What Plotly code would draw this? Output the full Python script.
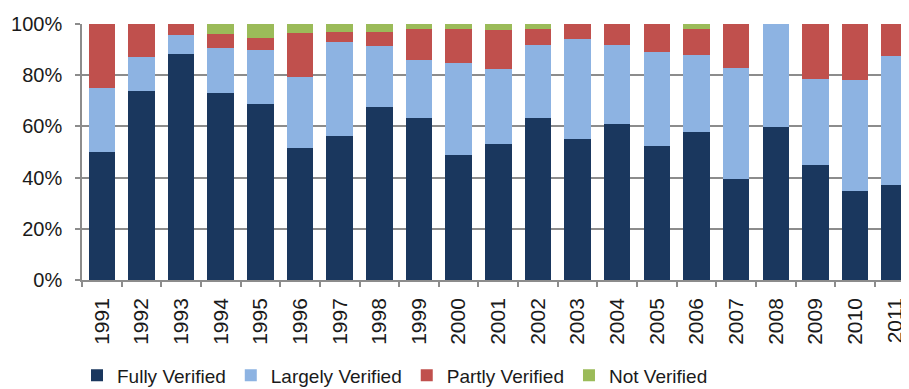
import plotly.graph_objects as go

years = [str(y) for y in range(1991, 2012)]
fully = [50.0, 74.0, 88.4, 73.1, 68.8, 51.6, 56.2, 67.5, 63.1, 49.0, 53.2,
         63.2, 54.9, 61.0, 52.5, 57.9, 39.4, 59.9, 45.1, 34.6, 37.3]
largely = [25.0, 13.0, 7.2, 17.4, 20.9, 27.7, 36.8, 23.8, 22.9, 35.9, 29.1,
           28.6, 39.1, 30.8, 36.6, 29.9, 43.4, 40.1, 33.4, 43.7, 50.2]
partly = [25.0, 13.0, 4.4, 5.7, 5.0, 17.2, 4.0, 5.7, 12.2, 13.3, 15.5,
          6.1, 6.0, 8.2, 10.9, 10.4, 17.2, 0.0, 21.5, 21.7, 12.5]
not_verified = [0.0, 0.0, 0.0, 3.8, 5.3, 3.5, 3.0, 3.0, 1.8, 1.8, 2.2,
                2.1, 0.0, 0.0, 0.0, 1.8, 0.0, 0.0, 0.0, 0.0, 0.0]
y_ticks = [0, 20, 40, 60, 80, 100]

series = [
    ("Fully Verified", fully, "#1A375E"),
    ("Largely Verified", largely, "#8DB3E2"),
    ("Partly Verified", partly, "#C0504D"),
    ("Not Verified", not_verified, "#9BBB59"),
]

FONT = "Liberation Sans"
W, H = 901, 381  # page body has an 8px margin
fig = go.Figure()
for name, vals, col in series:
    fig.add_trace(go.Bar(x=years, y=vals, name=name,
                         marker=dict(color=col, line=dict(width=0))))

fig.update_layout(
    barmode="stack",
    bargap=0.33,
    width=W, height=H,
    margin=dict(l=74, r=0, t=16, b=109, autoexpand=False),
    paper_bgcolor="white", plot_bgcolor="white",
    font=dict(family=FONT, color="#1a1a1a"),
    showlegend=True,
    legend=dict(orientation="h", xref="container", yref="container",
                x=69/W, y=(H-367.5)/H, xanchor="left", yanchor="middle",
                font=dict(size=19, family=FONT, color="#1a1a1a"),
                traceorder="normal", bgcolor="rgba(0,0,0,0)"),
)
fig.update_xaxes(
    type="category", range=[-0.5, 20.36],
    tickson="boundaries", ticks="outside", ticklen=5, tickwidth=1.5,
    tickcolor="#8c8c8c", showline=True, linecolor="#8c8c8c", linewidth=1.5,
    tickangle=-90, tickfont=dict(size=21, family=FONT, color="#1a1a1a"),
    ticklabelstandoff=8, showgrid=False,
)
fig.update_yaxes(
    range=[0, 100], tickvals=y_ticks, ticktext=[f"{v}%" for v in y_ticks],
    showgrid=True, gridcolor="#8c8c8c", gridwidth=1.5,
    ticks="outside", ticklen=5, tickwidth=1.5, tickcolor="#8c8c8c",
    showline=True, linecolor="#8c8c8c", linewidth=1.5,
    tickfont=dict(size=20, family=FONT, color="#1a1a1a"),
    ticklabelstandoff=9, zeroline=False,
)
fig.write_html("out.html")
